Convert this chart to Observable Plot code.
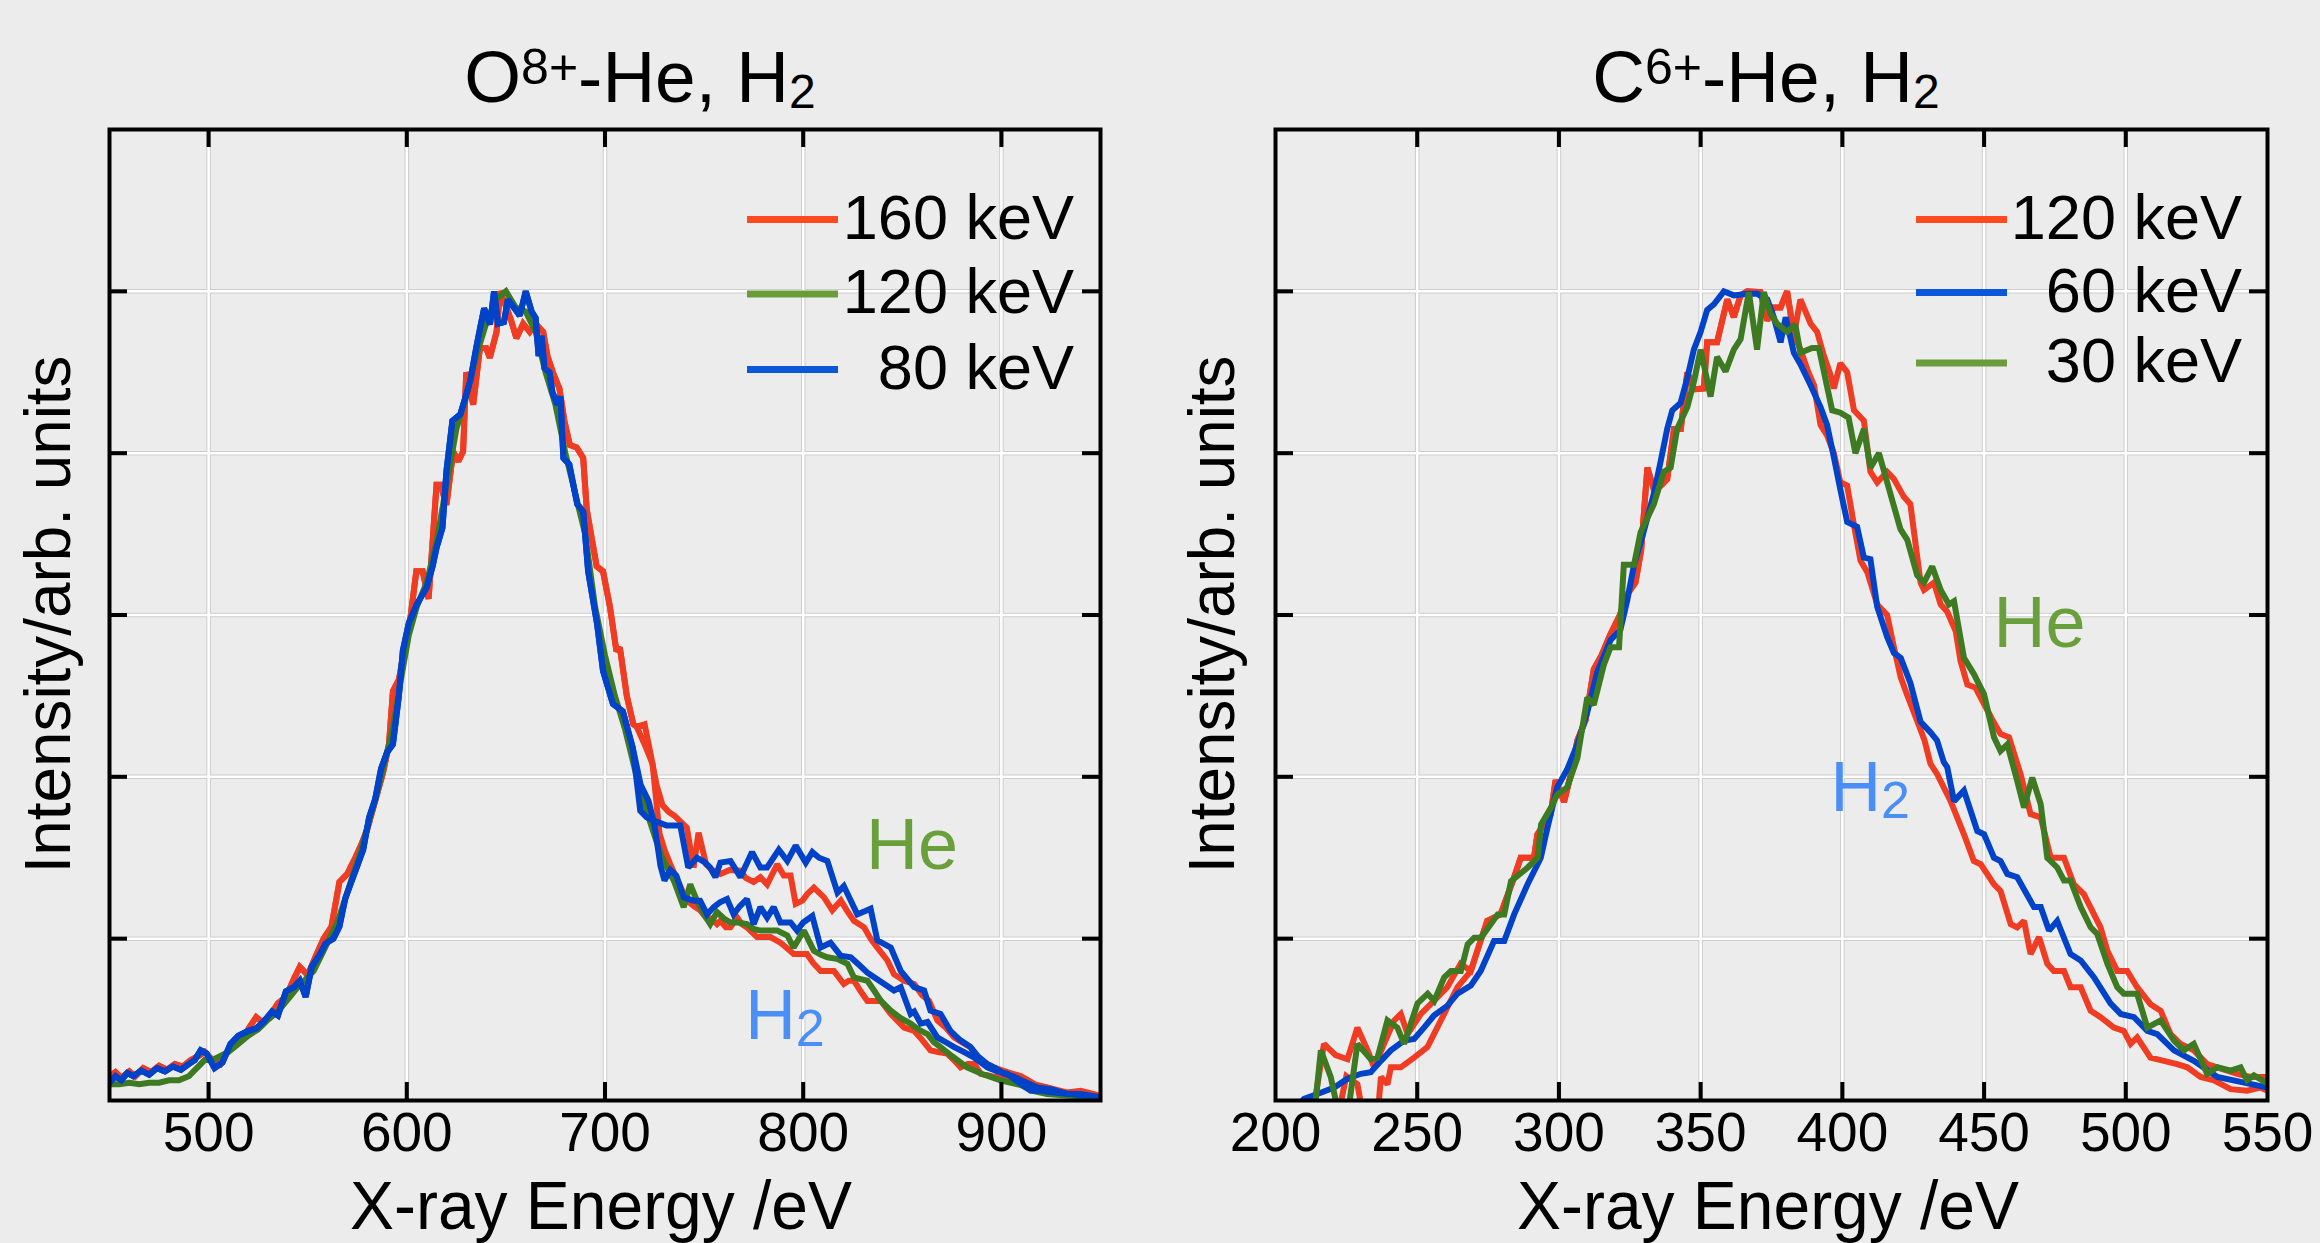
<!DOCTYPE html>
<html><head><meta charset="utf-8">
<script src="https://cdn.jsdelivr.net/npm/d3@7"></script>
<script src="https://cdn.jsdelivr.net/npm/@observablehq/plot@0.6"></script>
<style>
html,body{margin:0;padding:0;background:#ececec;}
#wrap{position:relative;width:2320px;height:1243px;overflow:hidden;background:#ececec;}
#wrap > div{position:absolute;top:0;width:1160px;height:1243px;}
svg{overflow:visible;}
</style></head>
<body><div id="wrap"><div id="left" style="left:0px"></div><div id="right" style="left:1160px"></div></div>
<script>
// ---------- axis ticks ----------
const oxygenTickLabels = [500, 600, 700, 800, 900];
const carbonTickLabels = [200, 250, 300, 350, 400, 450, 500, 550];
const carbonGrid = [250, 300, 350, 400, 450, 500];
const yTicks = [0.2, 0.4, 0.6, 0.8, 1.0];

// ---------- O8+ panel: [energy eV, normalized intensity] ----------
const o80Peak = [[450,0.022],[453,0.03],[456,0.025],[459,0.034],[462,0.03],[466,0.037],[470,0.032],[474,0.04],[478,0.036],[482,0.042],[486,0.038],[490,0.045],[493,0.05],[496,0.062],[499,0.058],[503,0.04],[507,0.047],[511,0.07],[515,0.08],[520,0.086],[524,0.089],[528,0.098],[532,0.11],[535,0.105],[539,0.135],[543,0.14],[546,0.148],[549,0.128],[552,0.165],[556,0.18],[559,0.194],[563,0.2],[566,0.215],[569,0.25],[572,0.27],[575,0.29],[578,0.31],[581,0.35],[584,0.372],[587,0.41],[590,0.43],[593,0.44],[596,0.5],[598,0.556],[601,0.59],[605,0.613],[610,0.634],[613,0.66],[615,0.683],[618,0.708],[620,0.778],[623,0.84],[627,0.848],[632,0.889],[635,0.93],[637,0.955],[639,0.979],[642,0.959],[644,1.0],[646,0.96],[649,0.962],[651,0.99],[654,0.98],[657,0.97],[660,1.0],[663,0.975],[665,0.967],[666.5,0.92],[668,0.945],[669.5,0.905],[672,0.9],[673.5,0.875],[676,0.86],[677.5,0.87],[679,0.794],[682,0.786],[686,0.737],[689,0.728],[691.5,0.654],[696,0.589],[699,0.531],[704,0.49],[709,0.481],[714,0.436]];
const o80HeTail = [[717.8,0.358],[721,0.35],[724.5,0.346],[731,0.34],[738,0.34],[742,0.288],[746.4,0.3],[750,0.295],[753,0.288],[755.7,0.276],[758.2,0.294],[763.3,0.296],[768.3,0.276],[774.2,0.307],[778.4,0.288],[781.8,0.288],[787.7,0.31],[792,0.296],[796.2,0.315],[801.3,0.294],[804.6,0.307],[808,0.3],[812.2,0.296],[817.3,0.257],[820.5,0.265],[827.3,0.23],[834,0.237],[837.4,0.198],[844.2,0.189],[849.2,0.16],[856,0.14],[861,0.136],[864.2,0.111],[869.3,0.107],[874.3,0.086],[879,0.075],[884.4,0.066],[888,0.055],[892.9,0.045],[897,0.04],[901.4,0.033],[906,0.03],[910,0.025],[918.2,0.016],[925,0.014],[933.5,0.008],[940,0.008],[950,0.004]];
const o80H2Tail = [[718,0.39],[722,0.37],[725,0.34],[728,0.29],[730,0.272],[733,0.285],[736,0.278],[739.7,0.251],[744.7,0.247],[748,0.247],[751.5,0.23],[754.8,0.239],[758,0.245],[761.6,0.249],[764.9,0.23],[768,0.24],[771.6,0.249],[775,0.218],[778.4,0.239],[781.8,0.226],[785.1,0.239],[788.5,0.22],[793.6,0.22],[796.9,0.21],[800,0.22],[804.6,0.228],[808.8,0.189],[813.8,0.195],[818.9,0.179],[824,0.177],[828,0.168],[832.4,0.158],[836,0.152],[840.9,0.144],[845.8,0.136],[849.2,0.14],[854.2,0.107],[856,0.11],[859.3,0.095],[862.7,0.097],[867.7,0.078],[872,0.072],[876.2,0.066],[881,0.06],[886.3,0.053],[892.9,0.041],[898,0.036],[903,0.033],[909,0.022],[914.8,0.012],[920,0.012],[926.6,0.01],[935,0.008],[947,0.005],[950,0.004]];

const o160Peak = [[450,0.03],[453,0.035],[456,0.028],[460,0.036],[463,0.03],[467,0.04],[471,0.035],[475,0.043],[479,0.038],[483,0.045],[487,0.042],[491,0.05],[495,0.055],[498,0.06],[502,0.05],[506,0.045],[510,0.062],[514,0.075],[518,0.08],[521,0.092],[524,0.103],[527,0.097],[531,0.105],[535,0.12],[539,0.128],[543,0.15],[546,0.165],[550,0.155],[554,0.178],[558,0.2],[562,0.215],[566,0.27],[570,0.28],[574,0.3],[577,0.316],[580,0.335],[584,0.37],[588,0.405],[591,0.44],[593,0.506],[596,0.52],[599,0.56],[602,0.6],[604.8,0.654],[608,0.654],[611,0.62],[613,0.69],[615,0.761],[617,0.761],[620,0.736],[623.4,0.802],[626,0.79],[628.4,0.802],[630,0.9],[633.5,0.86],[636.9,0.93],[640,0.93],[641.9,0.918],[645.3,0.95],[647,1.0],[650.3,0.98],[652.5,0.965],[655.3,0.942],[658.7,0.96],[662,0.95],[665,0.96],[668.8,0.95],[671,0.92],[673.7,0.9],[677,0.88],[679.5,0.84],[682.3,0.81],[685.7,0.807],[689,0.794],[690.8,0.73],[695.8,0.66],[699,0.654],[702.5,0.61],[705.8,0.555],[707.5,0.56],[711,0.5],[714.3,0.465],[716,0.462]];
const o160HeTail = [[720,0.465],[723,0.428],[726,0.39],[729,0.365],[732,0.357],[735,0.352],[738,0.345],[741.3,0.337],[744.7,0.288],[747.2,0.331],[751,0.292],[754,0.285],[758.2,0.28],[763,0.285],[768.3,0.284],[771,0.275],[775,0.27],[778.4,0.276],[781.8,0.267],[786.9,0.292],[790.2,0.278],[793.6,0.278],[796.2,0.243],[799.6,0.247],[802,0.255],[805.4,0.263],[810.5,0.251],[814.7,0.235],[819,0.247],[822,0.235],[825.6,0.222],[830.7,0.214],[834,0.2],[837.4,0.189],[842.5,0.173],[845.8,0.156],[850.9,0.148],[856,0.144],[860,0.13],[863.5,0.123],[867.7,0.099],[872,0.09],[876.2,0.078],[880,0.072],[884.4,0.066],[888,0.05],[892.9,0.045],[897,0.04],[903,0.035],[910,0.03],[917,0.02],[925,0.015],[933,0.01],[940,0.012],[950,0.006]];
const o160H2Tail = [[720,0.44],[724,0.416],[727.5,0.33],[730,0.31],[732.9,0.292],[737,0.27],[741.3,0.247],[745,0.24],[748,0.235],[751,0.226],[753.5,0.225],[756.5,0.218],[758.2,0.222],[761,0.214],[763.3,0.214],[766.7,0.226],[769,0.218],[771.6,0.214],[776.7,0.202],[780,0.202],[783.5,0.202],[788.5,0.195],[791,0.19],[795.2,0.181],[798,0.181],[801.9,0.181],[805,0.17],[808.8,0.16],[812,0.16],[815.5,0.16],[820.5,0.144],[823,0.148],[825.6,0.148],[829,0.135],[832.4,0.123],[836,0.123],[839.2,0.123],[844.2,0.107],[847,0.1],[850.9,0.09],[856,0.086],[860,0.075],[864.2,0.062],[868,0.06],[872.6,0.058],[876,0.05],[879.4,0.041],[883,0.045],[886.3,0.045],[889.6,0.033],[895,0.03],[900,0.028],[906,0.025],[912,0.02],[918,0.016],[923,0.016],[930,0.01],[938,0.008],[945,0.006],[950,0.004]];

const o120Peak = [[450,0.02],[455,0.02],[460,0.022],[465,0.02],[470,0.022],[475,0.022],[480,0.025],[485,0.025],[490,0.03],[494,0.04],[498,0.05],[502,0.05],[506,0.055],[510,0.06],[515,0.07],[520,0.08],[525,0.088],[530,0.1],[535,0.11],[540,0.125],[545,0.14],[549,0.15],[553,0.16],[557,0.18],[561,0.2],[565,0.22],[569,0.25],[573,0.28],[577,0.31],[581,0.345],[585,0.38],[589,0.42],[593,0.46],[597,0.52],[601,0.575],[605,0.61],[610,0.64],[615,0.69],[620,0.76],[625,0.83],[630,0.87],[635,0.92],[640,0.96],[645,0.99],[650,1.0],[655,0.98],[660,0.975],[665,0.95],[670,0.9],[675,0.86],[680,0.8],[685,0.75],[690,0.7],[695,0.61],[700,0.55],[705,0.5],[710,0.46],[714,0.42]];
const o120H2Tail = [[718,0.38],[722,0.35],[726,0.32],[729,0.3],[731.3,0.288],[735,0.27],[739.7,0.239],[743,0.267],[746.4,0.247],[750,0.23],[753.1,0.218],[756.5,0.233],[760,0.225],[763.3,0.22],[767,0.22],[771.6,0.218],[775,0.212],[778.4,0.21],[783,0.21],[786.9,0.21],[792,0.204],[795.2,0.189],[800.3,0.21],[805.4,0.185],[809,0.18],[812.2,0.177],[817,0.175],[822.3,0.169],[825.6,0.152],[829,0.15],[832.4,0.148],[836,0.135],[839.2,0.123],[844.2,0.111],[849,0.102],[854.2,0.095],[858,0.088],[862.7,0.082],[866,0.072],[869.3,0.066],[875,0.055],[882.7,0.041],[890,0.033],[899.6,0.025],[909.8,0.019],[916,0.012],[923,0.008],[935,0.006],[950,0.004]];

// ---------- C6+ panel ----------
const c120HeStart = [[213,-0.02],[217.1,0.07],[221.2,0.056],[225.4,0.051],[228.9,0.09],[232.5,0.062],[234.8,0.041],[238.3,0.07],[241.9,0.099],[244.2,0.107],[246.6,0.082],[251.3,0.107],[255.9,0.123],[260.6,0.14],[265.3,0.169]];
const c120H2Start = [[222,-0.02],[225,0.03],[228.9,0.02],[231,-0.02],[236,-0.02],[237.2,0.029],[239.5,0.02],[240.7,0.041],[244.2,0.041],[248.9,0.053],[253.6,0.066],[255.9,0.082],[259.5,0.107],[264.2,0.14]];
const c120Core = [[268.9,0.16],[271.2,0.185],[274.7,0.222],[279.4,0.23],[284.2,0.276],[286.5,0.3],[291.2,0.3],[292.4,0.329],[297.1,0.354],[298.8,0.396],[301.8,0.369],[304,0.4],[306.5,0.445],[309.4,0.47],[312.3,0.533],[315,0.55],[318,0.575],[321.5,0.6],[324,0.625],[327,0.64],[329,0.68],[331.2,0.782],[333.5,0.755],[336,0.76],[338.2,0.768],[340.6,0.83],[343,0.83],[345.3,0.9],[347.6,0.879],[351.1,0.88],[352.3,0.937],[355.8,0.937],[359.4,0.99],[361.7,0.968],[364.1,0.995],[366.4,1.0],[371.1,0.999],[373.5,0.964],[375.8,0.98],[378.2,0.98],[380.5,1.0],[382.9,0.946]];
const c120HeTail = [[385.2,0.99],[388.8,0.96],[391.1,0.95],[393.5,0.92],[395.8,0.897],[397,0.88],[399.3,0.911],[401.7,0.9],[404.1,0.853],[407.6,0.84],[409.9,0.777],[412.3,0.764],[415.8,0.777],[418.2,0.768],[421.7,0.746],[424,0.737],[427.6,0.64],[428.8,0.631],[432.3,0.64],[434.7,0.613],[437,0.604],[440,0.58],[441.7,0.543],[444.1,0.514],[447,0.51],[450,0.49],[453,0.47],[455.8,0.453],[458.8,0.449],[462.9,0.403],[466.4,0.354],[470,0.35],[473.5,0.3],[478.2,0.3],[481.7,0.267],[485.2,0.255],[491.1,0.214],[493.5,0.185],[497,0.16],[500.5,0.16],[504,0.14],[508.7,0.119],[512.3,0.111],[515.8,0.082],[519.3,0.07],[524,0.062],[528.7,0.045],[535.8,0.037],[539.3,0.033],[544,0.029],[550,0.029]];
const c120H2Tail = [[385,0.93],[388,0.9],[390,0.884],[392.3,0.835],[394.6,0.822],[397,0.8],[399.3,0.764],[401.7,0.76],[404.1,0.711],[406.4,0.667],[408.8,0.653],[412.3,0.613],[415.8,0.6],[418.2,0.56],[420.6,0.523],[423,0.5],[426.4,0.469],[429,0.445],[431.1,0.416],[433.5,0.403],[438.2,0.37],[442.9,0.329],[446.4,0.296],[448.8,0.292],[453.5,0.267],[455.8,0.259],[459.4,0.218],[461.7,0.214],[464.1,0.222],[466.4,0.181],[469.4,0.202],[472.3,0.169],[474.6,0.16],[478.2,0.16],[480.5,0.14],[484.1,0.14],[487.6,0.111],[491.1,0.103],[495.8,0.09],[499.3,0.086],[501.7,0.07],[504,0.078],[508.7,0.053],[513.4,0.049],[518.1,0.045],[521.7,0.041],[526.4,0.029],[531.1,0.025],[537,0.014],[542.8,0.012],[547.5,0.016],[550,0.012]];
const c60H2 = [[207,-0.01],[210.1,0.002],[214.8,0.008],[220.7,0.016],[225.4,0.027],[230.1,0.033],[233.6,0.035],[237.2,0.049],[240.7,0.062],[245.4,0.074],[248.9,0.076],[252.4,0.09],[255.9,0.105],[260.6,0.117],[264.2,0.132],[268.9,0.142],[272.4,0.16],[277.1,0.197],[280.7,0.197],[284.2,0.23],[288.9,0.267],[293.6,0.3],[295.5,0.33],[297.5,0.36],[299.4,0.387],[302.9,0.409],[306.5,0.44],[310,0.48],[313.5,0.529],[318.2,0.569],[321.7,0.582],[324.1,0.618],[326.5,0.662],[328.8,0.689],[331.2,0.72],[333.5,0.75],[335.9,0.79],[338.2,0.83],[340,0.853],[342.9,0.862],[345.3,0.893],[347.6,0.928],[350,0.95],[352.3,0.977],[354.7,0.984],[358.2,1.0],[361.7,0.995],[366.4,0.997],[369.9,0.997],[373.5,0.99],[375.8,0.968],[378.2,0.937],[380,0.968],[382.9,0.924],[385.2,0.91],[388.8,0.884],[392.3,0.857],[394.6,0.835],[397,0.795],[399.3,0.755],[401.7,0.715],[405.2,0.709],[407.6,0.671],[409.9,0.669],[412.3,0.61],[415.8,0.573],[418.2,0.553],[420.6,0.547],[424,0.516],[427.6,0.468],[431.1,0.455],[433.4,0.445],[435.8,0.418],[437,0.412],[439.4,0.37],[442.9,0.383],[447.6,0.333],[450,0.329],[453.5,0.3],[455.8,0.296],[458.2,0.28],[461.7,0.276],[467.6,0.239],[470,0.239],[472.9,0.21],[475.8,0.222],[480.5,0.181],[484.1,0.173],[488.8,0.152],[494.6,0.12],[498.2,0.107],[502.9,0.103],[507.6,0.086],[511.1,0.082],[517,0.062],[524,0.049],[532.3,0.029],[540.5,0.023],[550,0.016]];
const c30He = [[213.6,-0.02],[216,0.062],[219.5,0.029],[222.5,-0.02],[225.4,-0.02],[228.9,0.07],[233.6,0.051],[236,0.053],[239.5,0.099],[243,0.09],[245.4,0.07],[250.1,0.12],[253.7,0.132],[256,0.123],[259.5,0.152],[261.9,0.16],[265.4,0.16],[267.8,0.193],[270.1,0.201],[272.5,0.201],[276,0.218],[278.4,0.23],[280.7,0.23],[283.1,0.271],[289,0.288],[292.5,0.3],[293.7,0.341],[297.2,0.362],[299.4,0.378],[302.9,0.387],[306.5,0.423],[310,0.498],[312.3,0.489],[315.8,0.538],[318.2,0.56],[321.2,0.56],[322.9,0.662],[326.5,0.662],[328.8,0.702],[333.5,0.737],[337,0.777],[339.4,0.782],[341.7,0.83],[345.3,0.857],[347.6,0.888],[350,0.928],[353.5,0.87],[355.8,0.919],[358.8,0.901],[361.7,0.928],[364.1,0.941],[367,0.999],[369.9,0.928],[372.3,0.999],[374.7,0.972],[377,0.96],[380.5,0.95],[383.4,0.959],[385.2,0.924],[389.3,0.93],[391.7,0.93],[396.4,0.853],[399.3,0.85],[402.2,0.844],[404.6,0.8],[407.6,0.83],[409.9,0.782],[412.9,0.8],[415.8,0.764],[420.5,0.706],[422.9,0.693],[426.4,0.649],[428.8,0.64],[431.7,0.66],[434.7,0.631],[437.6,0.613],[439.4,0.617],[442.9,0.547],[446.4,0.527],[450,0.502],[453.5,0.449],[455.8,0.432],[458.2,0.44],[461.7,0.395],[464.1,0.362],[467,0.399],[470,0.366],[472.3,0.3],[475.8,0.288],[478.2,0.272],[480.5,0.272],[484.1,0.239],[487.6,0.214],[489.9,0.206],[493.5,0.169],[497,0.14],[499.3,0.132],[504,0.132],[507.6,0.09],[512.3,0.099],[517,0.074],[520.5,0.062],[524,0.07],[528.7,0.033],[532.3,0.041],[537,0.037],[540.5,0.041],[542.8,0.025],[545.2,0.031],[550,0.021]];

// ---------- text ----------
const oxygenLegend = ["160 keV", "120 keV", "80 keV"];
const carbonLegend = ["120 keV", "60 keV", "30 keV"];
const oxygenNoteHe = [832, 0.286];
const oxygenNoteH2 = [771, 0.076];
const carbonNoteHe = [453.5, 0.56];
const carbonNoteH2 = [396, 0.357];

const RED = "#ef3c22", GREEN = "#3d7a22", BLUE = "#0043c9";
const LRED = "#ff4a1f", LGREEN = "#6a9c3a", LBLUE = "#0b57d9";
const NOTE_GREEN = "#69a03b", NOTE_BLUE = "#4a8ef7";
const FONT = "'Liberation Sans', Arial, Helvetica, sans-serif";

function drawPanel(el, cfg) {
  const W = 1160, H = 1243, mt = 129, mb = 143;
  const innerW = W - cfg.ml - cfg.mr, innerH = H - mt - mb;
  const lines = cfg.series.map(s => Plot.line(s.data, {x: d => d[0], y: d => d[1], stroke: s.color, strokeWidth: 6, strokeLinejoin: "miter", strokeMiterlimit: 2, clip: true}));
  const chart = Plot.plot({
    width: W, height: H, marginLeft: cfg.ml, marginRight: cfg.mr, marginTop: mt, marginBottom: mb,
    style: {background: "transparent", fontFamily: FONT, color: "#000", overflow: "visible"},
    x: {domain: cfg.xDomain},
    y: {domain: [0, 1.2], axis: null},
    marks: [
      Plot.ruleX(cfg.grid, {x: d => d, stroke: "#cdcdcd", strokeWidth: 4.5}),
      Plot.ruleY(yTicks, {y: d => d, stroke: "#cdcdcd", strokeWidth: 4.5}),
      Plot.ruleX(cfg.grid, {x: d => d, stroke: "#ffffff", strokeWidth: 2.5}),
      Plot.ruleY(yTicks, {y: d => d, stroke: "#ffffff", strokeWidth: 2.5}),
      ...lines,
      Plot.tickX(cfg.grid, {x: d => d, insetTop: innerH - 18, stroke: "#000", strokeWidth: 4}),
      Plot.tickX(cfg.grid, {x: d => d, insetBottom: innerH - 18, stroke: "#000", strokeWidth: 4}),
      Plot.tickY(yTicks, {y: d => d, insetRight: innerW - 18, stroke: "#000", strokeWidth: 4}),
      Plot.tickY(yTicks, {y: d => d, insetLeft: innerW - 18, stroke: "#000", strokeWidth: 4}),
      Plot.frame({stroke: "#000", strokeWidth: 4}),
      Plot.axisX(cfg.labels, {tickSize: 0, tickPadding: 11, fontSize: 55, label: null, fill: "#000", tickFormat: d => String(d)})
    ]
  });
  const svg = d3.select(chart);
  const sx = chart.scale("x"), sy = chart.scale("y");

  // title
  const t = svg.append("text").attr("x", cfg.titleX).attr("y", 102).attr("text-anchor", "middle")
    .attr("font-family", FONT).attr("font-size", 73).attr("fill", "#000");
  t.append("tspan").text(cfg.title[0]);
  t.append("tspan").attr("font-size", 50).attr("dy", -18).text(cfg.title[1]);
  t.append("tspan").attr("dy", 18).text("-He, H");
  t.append("tspan").attr("font-size", 48).attr("dy", 6).text("2");

  // y label
  svg.append("text").attr("transform", `translate(${cfg.yLabelX},${(mt + H - mb) / 2}) rotate(-90)`)
    .attr("text-anchor", "middle").attr("font-family", FONT).attr("font-size", 64).attr("fill", "#000")
    .attr("textLength", 518).attr("lengthAdjust", "spacingAndGlyphs")
    .text("Intensity/arb. units");
  // x label
  svg.append("text").attr("x", cfg.xLabelX).attr("y", 1229).attr("text-anchor", "middle")
    .attr("font-family", FONT).attr("font-size", 68).attr("fill", "#000")
    .attr("textLength", 502).attr("lengthAdjust", "spacingAndGlyphs")
    .text("X-ray Energy /eV");

  // legend
  const lg = svg.append("g");
  cfg.legend.forEach((label, i) => {
    const y = cfg.legendY[i];
    lg.append("line").attr("x1", cfg.legendX1).attr("x2", cfg.legendX2).attr("y1", y).attr("y2", y)
      .attr("stroke", cfg.legendColors[i]).attr("stroke-width", 7);
    lg.append("text").attr("x", cfg.legendRight).attr("y", y + 19).attr("text-anchor", "end")
      .attr("font-family", FONT).attr("font-size", 63).attr("fill", "#000").text(label);
  });

  // annotations
  svg.append("text").attr("x", sx.apply(cfg.noteHe[0])).attr("y", sy.apply(cfg.noteHe[1]))
    .attr("text-anchor", "start").attr("font-family", FONT).attr("font-size", 72).attr("fill", NOTE_GREEN).text("He");
  const h2 = svg.append("text").attr("x", sx.apply(cfg.noteH2[0])).attr("y", sy.apply(cfg.noteH2[1]))
    .attr("text-anchor", "start").attr("font-family", FONT).attr("font-size", 70).attr("fill", NOTE_BLUE);
  h2.append("tspan").text("H");
  h2.append("tspan").attr("font-size", 52).attr("dy", 7).text("2");

  el.appendChild(chart);
}

drawPanel(document.getElementById("left"), {
  ml: 109, mr: 60, xDomain: [450, 950],
  labels: oxygenTickLabels, grid: oxygenTickLabels,
  series: [
    {data: [...o160Peak, ...o160HeTail], color: RED},
    {data: [...o160Peak, ...o160H2Tail], color: RED},
    {data: [...o120Peak, ...o120H2Tail], color: GREEN},
    {data: [...o80Peak, ...o80H2Tail], color: BLUE},
    {data: [...o80Peak, ...o80HeTail], color: BLUE}
  ],
  title: ["O", "8+"], titleX: 640,
  yLabelX: 70, xLabelX: 601,
  legend: oxygenLegend, legendColors: [LRED, LGREEN, LBLUE], legendY: [219.5, 294, 369.5],
  legendX1: 747, legendX2: 838, legendRight: 1074,
  noteHe: oxygenNoteHe, noteH2: oxygenNoteH2
});

drawPanel(document.getElementById("right"), {
  ml: 115, mr: 53, xDomain: [200, 550],
  labels: carbonTickLabels, grid: carbonGrid,
  series: [
    {data: [...c120HeStart, ...c120Core, ...c120HeTail], color: RED},
    {data: [...c120H2Start, ...c120Core, ...c120H2Tail], color: RED},
    {data: c60H2, color: BLUE},
    {data: c30He, color: GREEN}
  ],
  title: ["C", "6+"], titleX: 606,
  yLabelX: 74, xLabelX: 608,
  legend: carbonLegend, legendColors: [LRED, LBLUE, LGREEN], legendY: [219.5, 292.5, 363],
  legendX1: 756, legendX2: 847, legendRight: 1082,
  noteHe: carbonNoteHe, noteH2: carbonNoteH2
});
</script>
</body></html>
